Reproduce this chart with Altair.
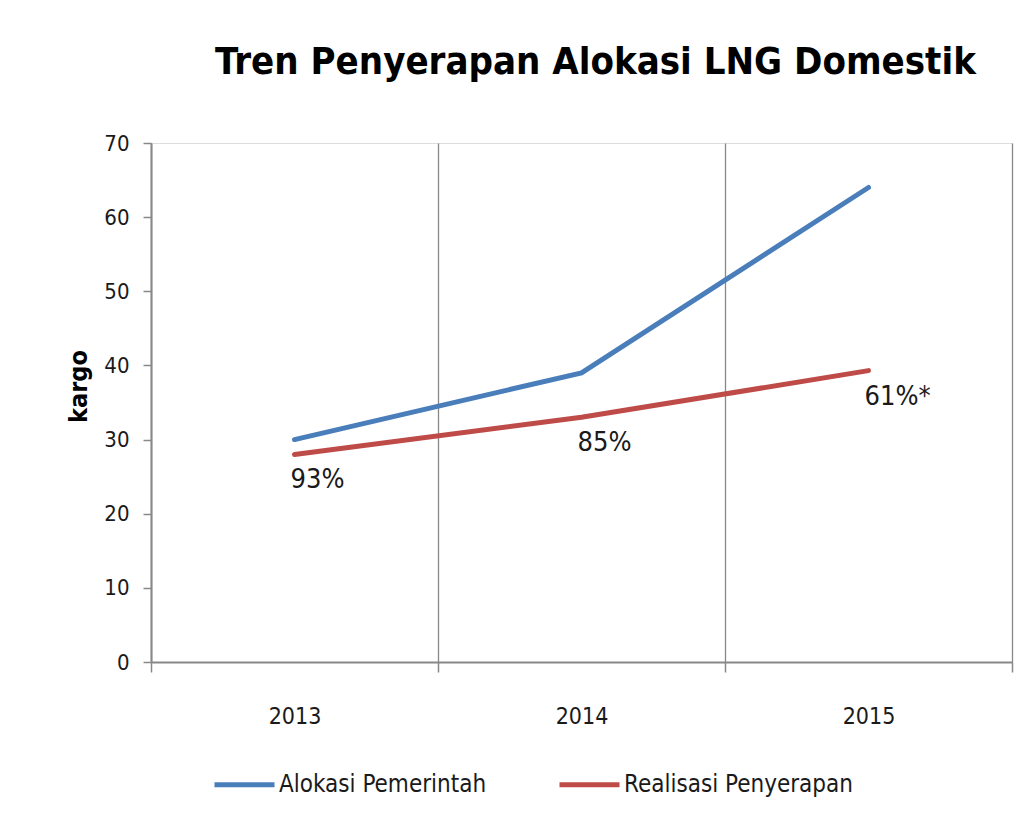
import altair as alt
import pandas as pd

years = [2013, 2014, 2015]
alokasi = [30, 39, 64]
realisasi = [28, 33, 39.3]
persen = ["93%", "85%", "61%*"]
series = ["Alokasi Pemerintah", "Realisasi Penyerapan"]
colors = ["#4A7EBB", "#BE4B48"]

rows = []
for y, a in zip(years, alokasi):
    rows.append({"tahun": y, "kargo": a, "seri": series[0]})
for y, r in zip(years, realisasi):
    rows.append({"tahun": y, "kargo": r, "seri": series[1]})
df = pd.DataFrame(rows)
lab = pd.DataFrame({"tahun": years, "kargo": realisasi, "label": persen})

FONT = "DejaVu Sans Condensed, Open Sans, sans-serif"

x_enc = alt.X(
    "tahun:Q",
    scale=alt.Scale(domain=[2012.5, 2015.5], nice=False, zero=False),
    axis=alt.Axis(
        title=None,
        values=[2012.5, 2013, 2013.5, 2014, 2014.5, 2015, 2015.5],
        labelExpr="datum.value % 1 === 0 ? '' + datum.value : ''",
        grid=True,
        gridColor="#888888",
        gridWidth=1.3,
        gridOpacity={"condition": {"test": "datum.value % 1 === 0", "value": 0}, "value": 1},
        tickOpacity={"condition": {"test": "datum.value % 1 === 0", "value": 0}, "value": 1},
        ticks=True,
        tickSize=10,
        tickColor="#888888",
        tickWidth=1.5,
        domainColor="#888888",
        domainWidth=2,
        labelFontSize=23,
        labelFont=FONT,
        labelColor="#1a1a1a",
        labelPadding=33,
        labelFlush=False,
    ),
)

y_enc = alt.Y(
    "kargo:Q",
    scale=alt.Scale(domain=[0, 70], nice=False),
    axis=alt.Axis(
        title="kargo",
        titleFont=FONT,
        titleFontSize=25,
        titleFontWeight="bold",
        titleColor="#000000",
        titlePadding=12,
        titleY=243,
        values=[0, 10, 20, 30, 40, 50, 60, 70],
        grid=False,
        tickSize=8,
        tickColor="#888888",
        tickWidth=1.5,
        domainColor="#888888",
        domainWidth=2,
        labelFontSize=22,
        labelFont=FONT,
        labelColor="#1a1a1a",
        labelPadding=14,
    ),
)

lines = alt.Chart(df).mark_line(strokeWidth=5, strokeCap="round").encode(
    x=x_enc,
    y=y_enc,
    color=alt.Color(
        "seri:N",
        scale=alt.Scale(domain=series, range=colors),
        legend=alt.Legend(
            title=None,
            orient="none",
            legendX=61,
            legendY=609,
            direction="horizontal",
            symbolType="stroke",
            symbolStrokeWidth=5,
            symbolSize=3600,
            labelFontSize=24,
            labelFont=FONT,
            labelColor="#1a1a1a",
            labelLimit=0,
            columnPadding=62,
            labelOffset=2,
        ),
    ),
)

texts = alt.Chart(lab).mark_text(
    align="left", baseline="top", dy=13, dx=-4, fontSize=27, font=FONT, color="#1a1a1a"
).encode(x="tahun:Q", y="kargo:Q", text="label:N")

chart = (
    alt.layer(lines, texts)
    .properties(
        width=861,
        height=519,
        title=alt.TitleParams(
            "Tren Penyerapan Alokasi LNG Domestik",
            fontSize=38,
            font=FONT,
            fontWeight="bold",
            color="#000000",
            offset=50,
            anchor="middle",
            dx=14,
        ),
        padding={"left": 58, "top": 36, "right": 5, "bottom": 5},
    )
    .configure_view(stroke=None)
    .configure(background="white")
)

chart.save("out.html", embed_options={"renderer": "svg", "actions": False})
